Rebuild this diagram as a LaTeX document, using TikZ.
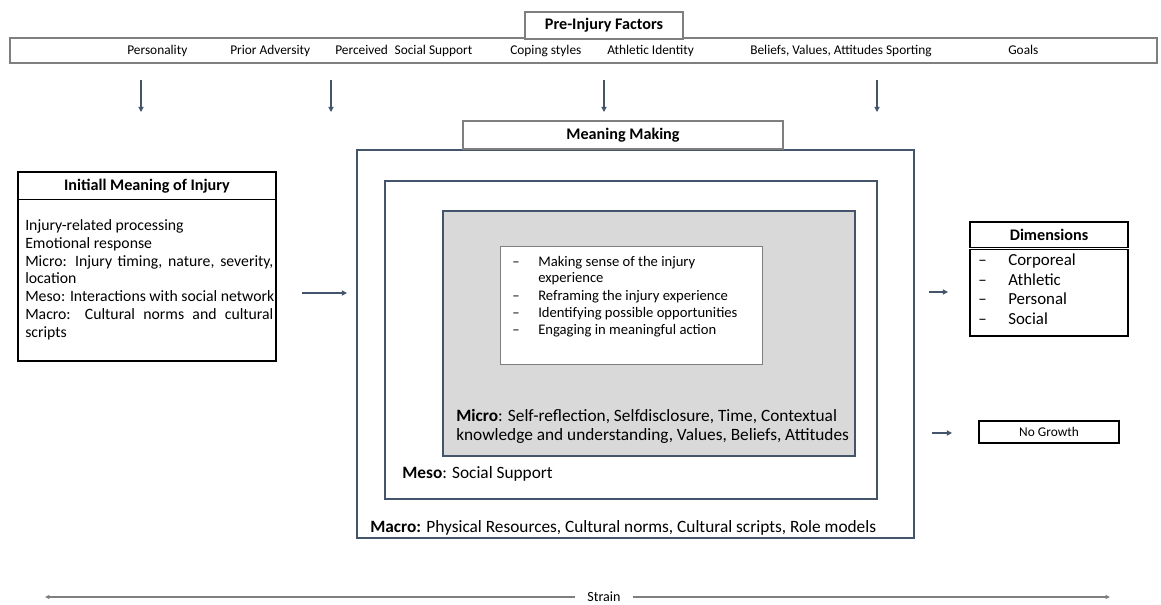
\documentclass[tikz,border=0pt]{standalone}
\usepackage{fontspec}
\setmainfont{Carlito}
\usetikzlibrary{arrows.meta}
\definecolor{slate}{HTML}{44546A}
\definecolor{boxgray}{HTML}{7F7F7F}
\definecolor{fillgray}{HTML}{D9D9D9}
\newcommand{\fs}[2]{\fontsize{#1}{#2}\selectfont}
\begin{document}
\begin{tikzpicture}[x=0.025cm, y=-0.025cm,
    frame/.style={draw=slate, line width=1pt, inner sep=0pt},
    greybox/.style={draw=boxgray, line width=1.3pt, inner sep=0pt},
    blackbox/.style={draw=black, line width=0.9pt, inner sep=0pt},
    header/.style={font=\bfseries\fs{11.5}{13}},
    factor/.style={anchor=base west, inner sep=0pt, font=\fs{9.5}{11}},
    body/.style={anchor=base west, inner sep=0pt, font=\fs{11.2}{13}},
    level/.style={anchor=base west, inner sep=0pt, font=\fs{12.3}{14}},
    listtext/.style={anchor=base west, inner sep=0pt, font=\fs{10.4}{12}},
    dimtext/.style={anchor=base west, inner sep=0pt, font=\fs{12}{14}},
    arr/.style={-{Triangle[length=1.3mm,width=1.3mm]}, draw=slate, line width=0.8pt},
    strainarr/.style={-{Triangle[length=1.1mm,width=1mm]}, draw=boxgray, line width=1pt}
]
    \useasboundingbox (0,0) rectangle (1161,604);

    % pre-injury factors
    \node[greybox, minimum width=28.675cm, minimum height=0.625cm] (bar) at (583.5,50.5) {};
    \node[greybox, fill=white, minimum width=3.95cm, minimum height=0.675cm, header] (pre) at (604,25.5) {Pre-Injury Factors};
    \foreach \xx/\t [count=\i] in {127/Personality, 230/Prior Adversity, 335/{Perceived\enspace Social Support},
        510/Coping styles, 607/Athletic Identity, 750/{Beliefs, Values, Attitudes Sporting}, 1008/Goals}
        \node[factor] (f\i) at (\xx,55) {\t};
    \foreach \xx [count=\i] in {141,331,604,877} {
        \coordinate (d\i) at (\xx,80);
        \coordinate (e\i) at (\xx,112);
        \draw[arr] (d\i) -- (e\i);
    }

    % meaning making
    \node[frame, minimum width=13.925cm, minimum height=9.7cm] (macro) at (635.5,344) {};
    \node[draw=boxgray, line width=0.8pt, fill=white, minimum width=8cm, minimum height=0.7cm, header] (mm) at (623,135) {Meaning Making};
    \node[frame, minimum width=12.3cm, minimum height=7.95cm] (meso) at (631,340) {};
    \node[frame, fill=fillgray, minimum width=10.3cm, minimum height=6.125cm] (micro) at (649,333.5) {};
    \node[draw=boxgray, line width=0.7pt, fill=white, minimum width=6.525cm, minimum height=2.925cm] (inner) at (631.5,305.5) {};
    \foreach \yy/\t [count=\i] in {266/Making sense of the injury, 282/experience, 300/Reframing the injury experience,
        317/Identifying possible opportunities, 334/Engaging in meaningful action}
        \node[listtext] (l\i) at (538,\yy) {\t};
    \foreach \yy [count=\i] in {266,300,317,334}
        \node[listtext] (ld\i) at (512,\yy) {--};
    \node[level] (mic1) at (456,421) {\textbf{Micro}: Self-reflection, Selfdisclosure, Time, Contextual};
    \node[level] (mic2) at (456,440) {knowledge and understanding, Values, Beliefs, Attitudes};
    \node[level] (mes) at (402,478) {\textbf{Meso}: Social Support};
    \node[level] (mac) at (370,532) {\textbf{Macro:} Physical Resources, Cultural norms, Cultural scripts, Role models};

    % initial meaning
    \node[blackbox, minimum width=6.45cm, minimum height=4.725cm] (init) at (147,266.5) {};
    \draw[black, line width=0.9pt] ([yshift=-0.7cm]init.north west) -- ([yshift=-0.7cm]init.north east);
    \node[header] (inittitle) at (147,186) {Initiall Meaning of Injury};
    \node[body] (b1) at (25,230.5) {Injury-related processing};
    \node[body] (b2) at (25,248.3) {Emotional response};
    \node[body] (b3) at (25,266.1) {\makebox[6.2cm][s]{Micro: Injury timing, nature, severity,}};
    \node[body] (b4) at (25,283.9) {location};
    \node[body] (b5) at (25,301.7) {Meso: Interactions with social network};
    \node[body] (b6) at (25,319.5) {\makebox[6.2cm][s]{Macro: Cultural norms and cultural}};
    \node[body] (b7) at (25,337.3) {scripts};

    % dimensions
    \node[blackbox, minimum width=3.95cm, minimum height=2.85cm] (dim) at (1049,279) {};
    \node[header] (dimtitle) at (1049,235) {Dimensions};
    \draw[double, double distance=1pt, line width=0.6pt] ([yshift=-0.675cm]dim.north west) -- ([yshift=-0.675cm]dim.north east);
    \foreach \t [count=\i] in {Corporeal, Athletic, Personal, Social} {
        \node[dimtext] (dd\i) at (978,245.5+19.8*\i) {--};
        \node[dimtext] (di\i) at (1008,245.5+19.8*\i) {\t};
    }
    \node[blackbox, minimum width=3.5cm, minimum height=0.55cm, font=\fs{9.5}{11}] (nog) at (1049,432) {No Growth};

    \coordinate (ia) at (302,293);
    \coordinate (ib) at (347,293);
    \draw[arr] (ia) -- (ib);
    \coordinate (da) at (929,292);
    \coordinate (db) at (948,292);
    \draw[arr] (da) -- (db);
    \coordinate (na) at (932,433);
    \coordinate (nb) at (952,433);
    \draw[arr] (na) -- (nb);

    % strain
    \node[inner sep=0pt, font=\fs{10}{12}] (strain) at (604,597) {Strain};
    \coordinate (sl) at (45,597);
    \coordinate (sr) at (1110,597);
    \draw[strainarr] ([xshift=-0.3cm]strain.west) -- (sl);
    \draw[strainarr] ([xshift=0.3cm]strain.east) -- (sr);
\end{tikzpicture}
\end{document}
